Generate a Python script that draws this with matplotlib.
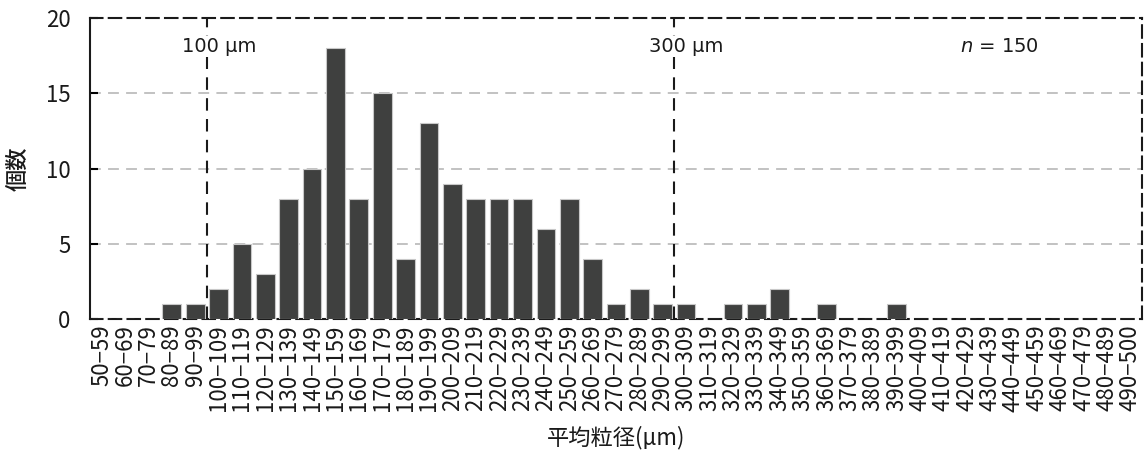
import numpy as np
import matplotlib.pyplot as plt

plt.rcParams['font.family'] = ['Noto Sans CJK JP', 'DejaVu Sans']

# data
lows = list(range(50, 500, 10))
labels = [f'{a}\u2212{a + 9}' for a in lows[:-1]] + ['490\u2212500']
counts = [0, 0, 0, 1, 1, 2, 5, 3, 8, 10,
          18, 8, 15, 4, 13, 9, 8, 8, 8, 6,
          8, 4, 1, 2, 1, 1, 0, 1, 1, 2,
          0, 1, 0, 0, 1, 0, 0, 0, 0, 0,
          0, 0, 0, 0, 0]
marks = [100, 300]
n_total = 150

fig = plt.figure(figsize=(11.48, 4.55), dpi=100)
ax = fig.add_axes([90 / 1148, 1 - 319 / 455, 1052 / 1148, 301 / 455])

x = np.arange(len(labels))
ax.bar(x, counts, width=0.8, color='#3f403f', edgecolor='#c8c8c8', linewidth=0.8, zorder=3)

ax.set_xlim(-0.5, len(labels) - 0.5)
ax.set_ylim(0, 20)
ax.set_yticks([0, 5, 10, 15, 20])
for yv in [5, 10, 15]:
  ax.axhline(yv, color='#bdbdbd', lw=1.3, ls=(0, (6, 4)), zorder=1)

# marker lines at 100 / 300 um
for m in marks:
  xm = lows.index(m) - 0.5
  ax.axvline(xm, color='#1a1a1a', lw=1.5, ls=(0, (6, 4)), zorder=4)
  ax.text(xm - 1.07, 18.1, f'{m} µm', ha='left', va='center', fontsize=14,
          family=['DejaVu Sans'], color='#1a1a1a', zorder=5,
          bbox=dict(facecolor='white', edgecolor='none', pad=1.0))

ax.text(40.1, 18.1, r'$n$ = ' + str(n_total), ha='right', va='center', fontsize=14,
        family=['DejaVu Sans'], color='#1a1a1a')

ax.set_xticks(x)
ax.set_xticklabels(labels, rotation=90, fontsize=16, color='#1a1a1a')
ax.tick_params(axis='x', length=0, pad=4)
ax.tick_params(axis='y', direction='in', length=6, width=1.5, labelsize=16, pad=14,
               labelcolor='#1a1a1a')

for s in ['top', 'right', 'bottom']:
  ax.spines[s].set_linestyle((0, (6, 3)))
  ax.spines[s].set_linewidth(1.5)
  ax.spines[s].set_color('#1a1a1a')
ax.spines['left'].set_linewidth(1.5)
ax.spines['left'].set_color('#1a1a1a')

ax.set_xlabel('平均粒径(µm)', fontsize=16, labelpad=10, color='#1a1a1a')
ax.set_ylabel('個数', fontsize=16, labelpad=12, color='#1a1a1a', fontweight='medium')

fig.savefig('out.png', dpi=100)
